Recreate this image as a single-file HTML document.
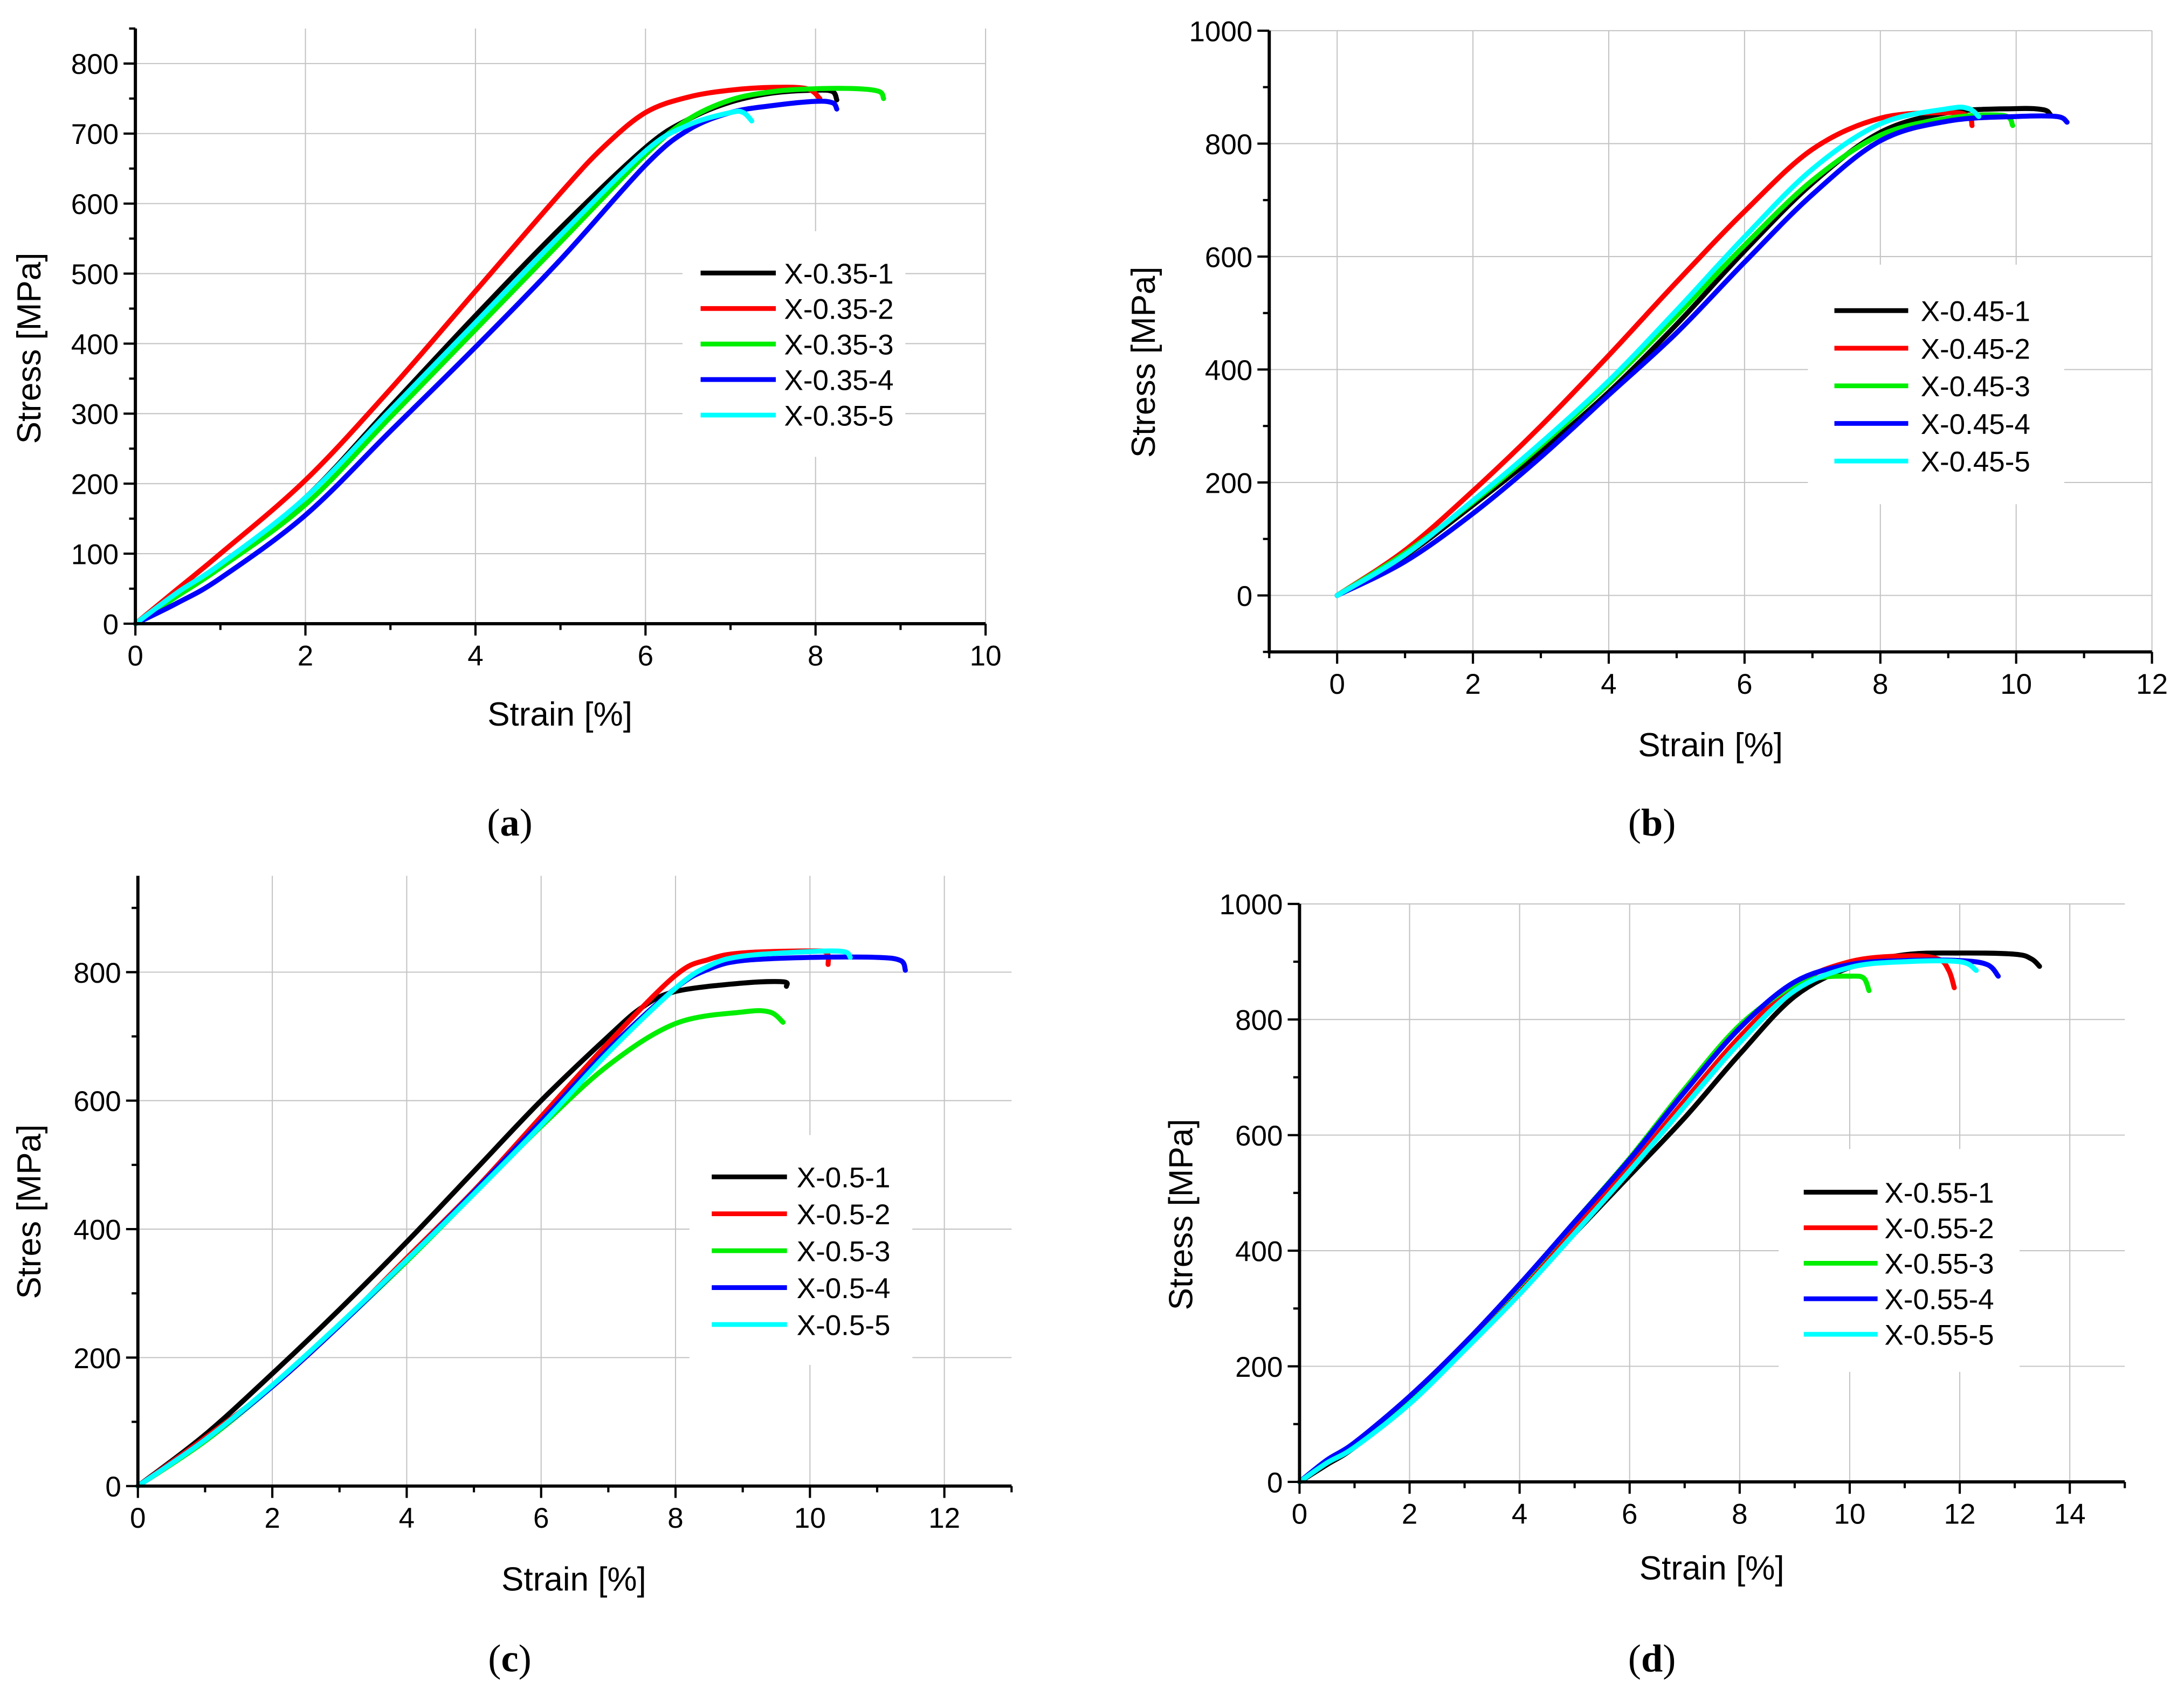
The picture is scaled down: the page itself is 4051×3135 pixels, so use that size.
<!DOCTYPE html>
<html><head><meta charset="utf-8"><style>html,body{margin:0;padding:0;background:#fff}svg{display:block}</style></head>
<body>
<svg id="fig" width="4051" height="3135" viewBox="0 0 1568 1213.4" xmlns="http://www.w3.org/2000/svg" font-family="'Liberation Sans', sans-serif"></svg>
<script>
// ---- data ----
const colors = ['#000000','#ff0000','#00ee00','#0000ff','#00ffff'];
const aNames = ['X-0.35-1','X-0.35-2','X-0.35-3','X-0.35-4','X-0.35-5'];
const aStrain1=[0,0.5,1,2,3,4,5,6,6.5,7,7.5,8,8.2,8.25];
const aStress1=[0,45,85,180,310,440,565,680,720,745,758,762,760,748];
const aStrain2=[0,0.5,1,2,3,4,5,5.5,6,6.5,7,7.5,7.9,8.05];
const aStress2=[0,50,100,205,335,475,615,680,730,752,762,766,764,750];
const aStrain3=[0,0.5,1,2,3,4,5,6,6.5,7,7.5,8,8.5,8.75,8.8];
const aStress3=[0,40,80,170,295,420,545,670,720,748,760,764,764,760,750];
const aStrain4=[0,0.5,1,2,3,4,5,6,6.5,7,7.5,8,8.2,8.25];
const aStress4=[0,30,65,155,275,395,520,655,705,730,740,746,744,735];
const aStrain5=[0,0.5,1,2,3,4,5,6,6.5,7,7.15,7.25];
const aStress5=[0,45,85,180,305,430,555,675,712,730,730,718];

const bNames = ['X-0.45-1','X-0.45-2','X-0.45-3','X-0.45-4','X-0.45-5'];
const bStrain1=[0,1,2,3,4,5,6,7,8,9,10,10.4,10.5];
const bStress1=[0,70,160,255,360,480,610,730,820,855,862,860,852];
const bStrain2=[0,1,2,3,4,5,6,7,8,9,9.3,9.35];
const bStress2=[0,80,185,300,425,555,680,790,845,855,848,832];
const bStrain3=[0,1,2,3,4,5,6,7,8,9,9.8,9.95];
const bStress3=[0,75,165,265,375,495,620,735,815,845,850,832];
const bStrain4=[0,1,2,3,4,5,6,7,8,9,10,10.6,10.75];
const bStress4=[0,60,145,245,355,465,590,710,805,840,848,848,838];
const bStrain5=[0,1,2,3,4,5,6,7,8,9,9.3,9.45];
const bStress5=[0,72,168,270,380,505,635,755,835,862,862,848];

const cNames = ['X-0.5-1','X-0.5-2','X-0.5-3','X-0.5-4','X-0.5-5'];
const cStrain1=[0,1,2,3,4,5,6,7,7.5,8,9,9.6,9.65];
const cStress1=[0,80,175,275,380,490,600,700,745,770,783,785,778];
const cStrain2=[0,1,2,3,4,5,6,7,8,8.5,9,10,10.25,10.27];
const cStress2=[0,75,155,250,355,460,575,690,795,820,830,833,830,812];
const cStrain3=[0,1,2,3,4,5,6,7,8,9,9.4,9.6];
const cStress3=[0,70,155,250,350,455,560,655,720,738,738,722];
const cStrain4=[0,1,2,3,4,5,6,7,8,8.5,9,10,11,11.35,11.42];
const cStress4=[0,72,155,250,352,458,568,680,775,805,818,823,823,818,803];
const cStrain5=[0,1,2,3,4,5,6,7,8,8.5,9,10,10.5,10.6];
const cStress5=[0,72,157,252,352,455,562,675,775,810,825,832,832,823];

const dNames = ['X-0.55-1','X-0.55-2','X-0.55-3','X-0.55-4','X-0.55-5'];
const dStrain1=[0,0.5,1,2,3,4,5,6,7,8,9,10,11,12,13,13.3,13.45];
const dStress1=[0,30,60,140,230,330,430,530,630,740,840,890,912,915,913,905,892];
const dStrain2=[0,0.5,1,2,3,4,5,6,7,8,9,10,11,11.6,11.8,11.9];
const dStress2=[0,35,65,145,240,335,440,545,660,770,860,900,910,905,885,855];
const dStrain3=[0,0.5,1,2,3,4,5,6,7,8,9,9.5,10,10.25,10.35];
const dStress3=[0,35,65,145,240,340,450,560,680,790,860,873,875,872,850];
const dStrain4=[0,0.5,1,2,3,4,5,6,7,8,9,10,11,12,12.5,12.7];
const dStress4=[0,38,68,148,240,342,450,558,675,785,865,895,902,902,895,875];
const dStrain5=[0,0.5,1,2,3,4,5,6,7,8,9,10,11,12,12.3];
const dStress5=[0,33,60,135,228,325,430,538,650,760,850,890,900,900,885];

const aXTicks=[0,2,4,6,8,10], aYTicks=[0,100,200,300,400,500,600,700,800];
const bXTicks=[0,2,4,6,8,10,12], bYTicks=[0,200,400,600,800,1000];
const cXTicks=[0,2,4,6,8,10,12], cYTicks=[0,200,400,600,800];
const dXTicks=[0,2,4,6,8,10,12,14], dYTicks=[0,200,400,600,800,1000];

const NS='http://www.w3.org/2000/svg';
const svg=document.getElementById('fig');
function mk(tag,attrs,parent){const e=document.createElementNS(NS,tag);for(const k in attrs)e.setAttribute(k,attrs[k]);(parent||svg).appendChild(e);return e;}
function smooth(pts){let d='M'+pts[0][0]+','+pts[0][1];for(let i=0;i<pts.length-1;i++){const p0=pts[Math.max(i-1,0)],p1=pts[i],p2=pts[i+1],p3=pts[Math.min(i+2,pts.length-1)];const c1=[p1[0]+(p2[0]-p0[0])/6,p1[1]+(p2[1]-p0[1])/6],c2=[p2[0]-(p3[0]-p1[0])/6,p2[1]-(p3[1]-p1[1])/6];d+=' C'+c1[0].toFixed(2)+','+c1[1].toFixed(2)+' '+c2[0].toFixed(2)+','+c2[1].toFixed(2)+' '+p2[0].toFixed(2)+','+p2[1].toFixed(2);}return d;}

function panel(cfg){
  const g=mk('g',{});
  
  
  const X=v=>cfg.px0+(v-cfg.x0)*(cfg.px1-cfg.px0)/(cfg.x1-cfg.x0);
  const Y=v=>cfg.py0-(v-cfg.y0)*(cfg.py0-cfg.py1)/(cfg.y1-cfg.y0);
  const L=X(cfg.xmin),R=X(cfg.xmax),B=Y(cfg.ymin),T=Y(cfg.ymax);
  // grid
  cfg.xt.forEach(v=>{if(X(v)>L+1){const l=mk('line',{x1:X(v),x2:X(v),y1:T,y2:B,stroke:'#c4c4c4','stroke-width':0.8},g);}});
  cfg.yt.forEach(v=>{if(Y(v)<B-1){const l=mk('line',{x1:L,x2:R,y1:Y(v),y2:Y(v),stroke:'#c4c4c4','stroke-width':0.8},g);}});
  // legend background
  const lb=mk('rect',{x:cfg.lg.bx,y:cfg.lg.by,width:cfg.lg.bw,height:cfg.lg.bh,fill:'#fff'},g);
  
  
  // curves
  cfg.series.forEach((s,i)=>{const pts=s[0].map((x,j)=>[X(x),Y(s[1][j])]);const p=mk('path',{d:smooth(pts),fill:'none',stroke:colors[i],'stroke-width':3.6,'stroke-linejoin':'round','stroke-linecap':'round'},g);
    
    });
  // legend entries
  cfg.names.forEach((n,i)=>{const y=cfg.lg.rows[0]+i*cfg.lg.dy;
    const le=mk('g',{},g);
    
    
    mk('line',{x1:cfg.lg.l1,x2:cfg.lg.l2,y1:y,y2:y,stroke:colors[i],'stroke-width':3.4},le);
    const t=mk('text',{x:cfg.lg.tx,y:y+7.5,'font-size':20.5,fill:'#000'},le);t.textContent=n;});
  // axes
  const ax=mk('line',{x1:L,x2:R,y1:B,y2:B,stroke:'#000','stroke-width':2.3},g);
  
  
  const ay=mk('line',{x1:L,x2:L,y1:B+1.1,y2:T,stroke:'#000','stroke-width':2.3},g);
  
  
  for(let v=cfg.xmin;v<=cfg.xmax+1e-9;v+=cfg.xminor){const major=Math.abs(v/cfg.xmajor-Math.round(v/cfg.xmajor))<1e-6;mk('line',{x1:X(v),x2:X(v),y1:B,y2:B+(major?8.5:4.5),stroke:'#000','stroke-width':1.6},g);}
  for(let v=cfg.ymin;v<=cfg.ymax+1e-9;v+=cfg.yminor){const major=Math.abs(v/cfg.ymajor-Math.round(v/cfg.ymajor))<1e-6;mk('line',{x1:L,x2:L-(major?8.5:4.5),y1:Y(v),y2:Y(v),stroke:'#000','stroke-width':1.6},g);}
  cfg.xt.forEach(v=>{const t=mk('text',{x:X(v),y:B+30,'font-size':20.5,'text-anchor':'middle'},g);t.textContent=v;
    
    });
  cfg.yt.forEach(v=>{const t=mk('text',{x:L-12,y:Y(v)+7.5,'font-size':20.5,'text-anchor':'end'},g);t.textContent=v;
    
    });
  const xt=mk('text',{x:cfg.xtitle[0],y:cfg.xtitle[1]+9,'font-size':24,'text-anchor':'middle'},g);xt.textContent='Strain [%]';
  
  
  const yt=mk('text',{x:0,y:0,'font-size':24,'text-anchor':'middle',transform:'translate('+(cfg.ytitle[0]+9)+','+cfg.ytitle[1]+') rotate(-90)'},g);yt.textContent=cfg.ylabel;
  
  
  const pl=mk('text',{x:cfg.plabel[0],y:cfg.plabel[1]+10,'font-size':28,'text-anchor':'middle','font-family':"'Liberation Serif', serif"},g);
  
  
  const t1=mk('tspan',{},pl);t1.textContent='(';
  const t2=mk('tspan',{'font-weight':'bold'},pl);t2.textContent=cfg.letter;
  const t3=mk('tspan',{},pl);t3.textContent=')';
}

panel({name:'panel-a',letter:'a',names:aNames,ylabel:'Stress [MPa]',
  series:[[aStrain1,aStress1],[aStrain2,aStress2],[aStrain3,aStress3],[aStrain4,aStress4],[aStrain5,aStress5]],
  x0:0,x1:10,px0:97.2,px1:707.6,y0:0,y1:800,py0:447.8,py1:45.6,
  xmin:0,xmax:10,ymin:0,ymax:850,xmajor:2,xminor:1,ymajor:100,yminor:50,xt:aXTicks,yt:aYTicks,
  lg:{bx:490,by:166,bw:160,bh:162,l1:503,l2:557,tx:563,rows:[196],dy:25.5},
  xtitle:[402,512],ytitle:[20,250],plabel:[366,590]});
panel({name:'panel-b',letter:'b',names:bNames,ylabel:'Stress [MPa]',
  series:[[bStrain1,bStress1],[bStrain2,bStress2],[bStrain3,bStress3],[bStrain4,bStress4],[bStrain5,bStress5]],
  x0:0,x1:12,px0:960,px1:1545,y0:0,y1:1000,py0:427.5,py1:22,
  xmin:-1,xmax:12,ymin:-100,ymax:1000,xmajor:2,xminor:1,ymajor:200,yminor:100,xt:bXTicks,yt:bYTicks,
  lg:{bx:1298,by:190,bw:184,bh:172,l1:1317,l2:1370,tx:1379,rows:[223],dy:27},
  xtitle:[1228,534],ytitle:[820,260],plabel:[1186,590]});
panel({name:'panel-c',letter:'c',names:cNames,ylabel:'Stres [MPa]',
  series:[[cStrain1,cStress1],[cStrain2,cStress2],[cStrain3,cStress3],[cStrain4,cStress4],[cStrain5,cStress5]],
  x0:0,x1:12,px0:99,px1:678,y0:0,y1:800,py0:1067,py1:698,
  xmin:0,xmax:13,ymin:0,ymax:950,xmajor:2,xminor:1,ymajor:200,yminor:100,xt:cXTicks,yt:cYTicks,
  lg:{bx:495,by:815,bw:160,bh:165,l1:511,l2:565,tx:572,rows:[845],dy:26.5},
  xtitle:[412,1133],ytitle:[20,870],plabel:[366,1190]});
panel({name:'panel-d',letter:'d',names:dNames,ylabel:'Stress [MPa]',
  series:[[dStrain1,dStress1],[dStrain2,dStress2],[dStrain3,dStress3],[dStrain4,dStress4],[dStrain5,dStress5]],
  x0:0,x1:14,px0:933,px1:1486,y0:0,y1:1000,py0:1064,py1:649,
  xmin:0,xmax:15,ymin:0,ymax:1000,xmajor:2,xminor:1,ymajor:200,yminor:100,xt:dXTicks,yt:dYTicks,
  lg:{bx:1277,by:825,bw:173,bh:160,l1:1295,l2:1348,tx:1353,rows:[856],dy:25.5},
  xtitle:[1229,1125],ytitle:[847,872],plabel:[1186,1190]});
</script>
</body></html>
